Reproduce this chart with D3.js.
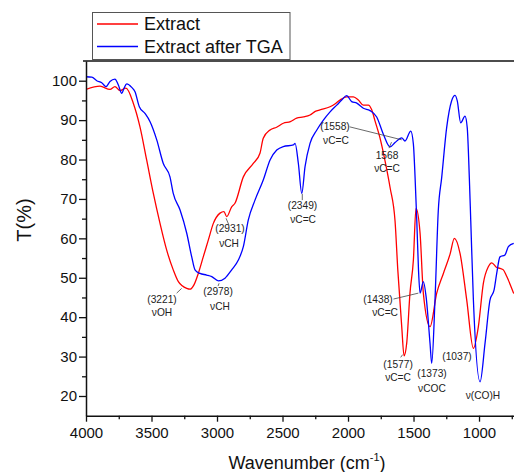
<!DOCTYPE html>
<html>
<head>
<meta charset="utf-8">
<script src="https://cdn.jsdelivr.net/npm/d3@7"></script>
<style>
body { margin: 0; background: #fff; }
svg { display: block; font-family: "Liberation Sans", Arial, sans-serif; }
</style>
</head>
<body>
<div id="container"></div>
<script>
var WIDTH = 514,
	HEIGHT = 472,
	LEFT = 86,
	RIGHT = 514,
	TOP = 61,
	BOTTOM = 415.7;

// Extract (red)
var extractWave = [4000, 3893, 3817, 3779, 3740, 3695, 3639, 3588, 3537, 3486, 3435, 3384, 3334, 3295, 3231, 3206, 3176, 3143, 3105, 3066, 3028, 2977, 2947, 2926, 2888, 2863, 2799, 2723, 2672, 2647, 2595, 2545, 2494, 2440, 2392, 2340, 2290, 2250, 2214, 2137, 2100, 2061, 2010, 1959, 1921, 1883, 1845, 1819, 1794, 1756, 1717, 1679, 1641, 1620, 1590, 1572, 1552, 1527, 1501, 1481, 1450, 1425, 1374, 1323, 1272, 1221, 1188, 1145, 1094, 1043, 1005, 967, 929, 903, 865, 840, 814, 788, 735];
var extractT = [97.8, 98.6, 97.8, 98.5, 97.5, 98.1, 94.3, 88.3, 79.9, 71.4, 63.8, 57, 52, 49, 47.3, 47.1, 48.2, 51.1, 55.3, 59.6, 63.8, 66.4, 66.8, 65.5, 68, 68.9, 75.6, 79, 81.6, 85.4, 87.5, 88.2, 89.2, 89.6, 90.5, 90.8, 91.3, 92.2, 92.6, 93.4, 94.1, 95.1, 95.9, 95.9, 95.1, 93.8, 93.8, 92.6, 89.8, 85.5, 79.6, 72.9, 64.4, 52, 37.6, 30.2, 33.4, 46.1, 54.5, 67.6, 61.3, 46.1, 37.6, 46.1, 51.1, 56, 60, 56.2, 44.4, 32.1, 37.6, 48.6, 52.8, 53.8, 52.6, 52.4, 52, 50.3, 46];

// Extract after TGA (blue)
var tgaWave = [4000, 3956, 3918, 3880, 3847, 3817, 3779, 3753, 3727, 3710, 3689, 3651, 3626, 3593, 3550, 3511, 3460, 3410, 3359, 3334, 3282, 3231, 3193, 3168, 3130, 3079, 3040, 2990, 2939, 2888, 2837, 2799, 2761, 2710, 2647, 2595, 2544, 2494, 2417, 2404, 2379, 2353, 2328, 2290, 2238, 2188, 2137, 2086, 2048, 2010, 1972, 1933, 1883, 1832, 1781, 1730, 1679, 1641, 1590, 1565, 1521, 1501, 1488, 1475, 1462, 1450, 1425, 1404, 1374, 1361, 1336, 1311, 1285, 1247, 1209, 1183, 1166, 1140, 1107, 1090, 1074, 1063, 1043, 992, 954, 916, 885, 865, 840, 802, 776, 735];
var tgaT = [101, 100.9, 100, 99.5, 98.5, 99.8, 100.4, 98.9, 96.8, 98.1, 99.2, 98.3, 97.2, 93.4, 91.7, 89.6, 85, 79, 75.6, 71.4, 67.2, 61.3, 55.3, 52, 51.1, 50.7, 50.3, 49.2, 49.9, 52, 54.5, 57.9, 64.7, 69.7, 74.8, 79.9, 82.4, 83.3, 83.7, 84.1, 79, 71.4, 78.2, 84.1, 87.5, 90, 92.1, 93.8, 95.1, 96.2, 94.7, 94.3, 93, 92.4, 90.8, 86.4, 83.2, 84.3, 85.5, 84.7, 87.2, 83.9, 75.4, 64.4, 52, 46.1, 49, 45.2, 33.4, 28.3, 44.4, 67, 75.4, 88.1, 94.9, 96.3, 94.9, 89.3, 91, 88.1, 75.4, 64.4, 44.4, 23.6, 33.4, 44.4, 46.9, 51.1, 55.3, 55.8, 57.9, 58.7];

var xTicks = [4000, 3500, 3000, 2500, 2000, 1500, 1000];
var xMinor = [3750, 3250, 2750, 2250, 1750, 1250, 750];
var yTicks = [20, 30, 40, 50, 60, 70, 80, 90, 100];
var yMinor = [25, 35, 45, 55, 65, 75, 85, 95];

var seriesNames = ['Extract', 'Extract after TGA'];
var seriesColors = ['#ff0000', '#0000ff'];

// peak labels
var annoText = ['(3221)', '\u03bdOH', '(2978)', '\u03bdCH', '(2931)', '\u03bdCH', '(2349)', '\u03bdC=C', '(1558)', '\u03bdC=C', '1568', '\u03bdC=C', '(1438)', '\u03bdC=C', '(1577)', '\u03bdC=C', '(1373)', '\u03bdCOC', '(1037)', '\u03bd(CO)H'];
var annoWave = [3420, 3420, 2992, 2977, 2901, 2908, 2347, 2343, 2099, 2092, 1702, 1702, 1771, 1717, 1618, 1618, 1359, 1359, 1168, 970];
var annoT = [44.4, 41.3, 46.4, 42.8, 62.4, 58.8, 68.3, 64.7, 88.3, 84.9, 80.9, 77.7, 44.4, 41.1, 28.1, 24.8, 25.6, 21.8, 30.1, 20.2];
// leader lines: [wave1, T1, wave2, T2]
var leaders = [[3308, 46.1, 3270, 47.3], [2992, 47.9, 2984, 48.6], [2931, 65.1, 2908, 63.3], [2349, 71.3, 2349, 69.7], [1988, 88.3, 1590, 85.0], [1687, 82.9, 1668, 84.4], [1653, 44.6, 1463, 46.1], [1598, 29.8, 1583, 30.5]];

var xScale = d3.scaleLinear().domain([4000, 733]).range([LEFT, RIGHT]);
var yScale = d3.scaleLinear().domain([15, 105]).range([BOTTOM, TOP]);

var translate = function (x, y) {
	return "translate(" + x + "," + y + ")";
};

function drawAxis(svg) {
	var xAxis = d3.axisBottom(xScale).tickValues(xTicks).tickSize(6).tickSizeOuter(0).tickPadding(6).tickFormat(d3.format('d'));
	var gx = svg.append('g').attr('transform', translate(0, BOTTOM)).call(xAxis);
	var xm = d3.axisBottom(xScale).tickValues(xMinor).tickSize(3.5).tickFormat('');
	svg.append('g').attr('transform', translate(0, BOTTOM)).call(xm).select('.domain').remove();

	var yAxis = d3.axisLeft(yScale).tickValues(yTicks).tickSize(7).tickSizeOuter(0).tickPadding(2);
	var gy = svg.append('g').attr('transform', translate(LEFT, 0)).call(yAxis);
	var ym = d3.axisLeft(yScale).tickValues(yMinor).tickSize(4).tickFormat('');
	svg.append('g').attr('transform', translate(LEFT, 0)).call(ym).select('.domain').remove();

	svg.selectAll('.tick text').attr('font-size', 15).attr('fill', '#111').attr('font-family', '"Liberation Sans", Arial, sans-serif');
	svg.selectAll('.tick line').attr('stroke', '#111').attr('stroke-width', 1.3);
	svg.selectAll('.domain').attr('stroke', '#111').attr('stroke-width', 1.5);

	// top frame
	svg.append('line')
		.attr('x1', LEFT - 3).attr('x2', RIGHT)
		.attr('y1', TOP).attr('y2', TOP)
		.attr('stroke', '#111').attr('stroke-width', 1.5);

	var xt = svg.append('text')
		.attr('x', 307).attr('y', 469)
		.attr('text-anchor', 'middle')
		.attr('font-size', 18).attr('fill', '#111')
		.text('Wavenumber (cm');
	xt.append('tspan').attr('font-size', 11).attr('dy', -8).text('-1');
	xt.append('tspan').attr('dy', 8).text(')');

	svg.append('text')
		.attr('transform', translate(24, 220) + ' rotate(-90)')
		.attr('text-anchor', 'middle')
		.attr('dominant-baseline', 'central')
		.attr('font-size', 20).attr('fill', '#111')
		.text('T(%)');
}

function drawLines(svg) {
	var line = d3.line()
		.x(function (d) { return xScale(d[0]); })
		.y(function (d) { return yScale(d[1]); })
		.curve(d3.curveMonotoneX);
	var sets = [
		d3.zip(extractWave, extractT),
		d3.zip(tgaWave, tgaT)
	];
	var clip = svg.append('clipPath').attr('id', 'plotclip');
	clip.append('rect').attr('x', LEFT).attr('y', TOP).attr('width', RIGHT - LEFT).attr('height', BOTTOM - TOP);
	sets.forEach(function (pts, i) {
		svg.append('path')
			.attr('d', line(pts))
			.attr('clip-path', 'url(#plotclip)')
			.attr('fill', 'none')
			.attr('stroke', seriesColors[i])
			.attr('stroke-width', 1.3);
	});
}

function drawAnnotations(svg) {
	svg.selectAll('line.leader').data(leaders).enter()
		.append('line')
		.classed('leader', true)
		.attr('x1', function (d) { return xScale(d[0]); })
		.attr('y1', function (d) { return yScale(d[1]); })
		.attr('x2', function (d) { return xScale(d[2]); })
		.attr('y2', function (d) { return yScale(d[3]); })
		.attr('stroke', '#444')
		.attr('stroke-width', 0.8);

	svg.selectAll('text.anno').data(annoText).enter()
		.append('text')
		.classed('anno', true)
		.attr('x', function (d, i) { return xScale(annoWave[i]); })
		.attr('y', function (d, i) { return yScale(annoT[i]); })
		.attr('text-anchor', 'middle')
		.attr('dominant-baseline', 'central')
		.attr('font-size', 10.2)
		.attr('fill', '#222')
		.text(function (d) { return d; });
}

function drawLegend(svg) {
	var g = svg.append('g').attr('transform', translate(92.5, 12.5));
	g.append('rect')
		.attr('width', 197.5).attr('height', 47)
		.attr('fill', '#fff')
		.attr('stroke', '#555').attr('stroke-width', 1);
	seriesNames.forEach(function (name, i) {
		var yy = 11.5 + i * 22.5;
		g.append('line')
			.attr('x1', 4.5).attr('x2', 45.5)
			.attr('y1', yy).attr('y2', yy)
			.attr('stroke', seriesColors[i])
			.attr('stroke-width', 1.3);
		g.append('text')
			.attr('x', 51.5).attr('y', yy)
			.attr('dominant-baseline', 'central')
			.attr('font-size', 18).attr('fill', '#111')
			.text(name);
	});
}

function drawChart() {
	var svg = d3.select('#container')
		.append('svg')
		.attr('width', WIDTH)
		.attr('height', HEIGHT);
	drawLines(svg);
	drawAxis(svg);
	drawAnnotations(svg);
	drawLegend(svg);
}

drawChart();
</script>
</body>
</html>
